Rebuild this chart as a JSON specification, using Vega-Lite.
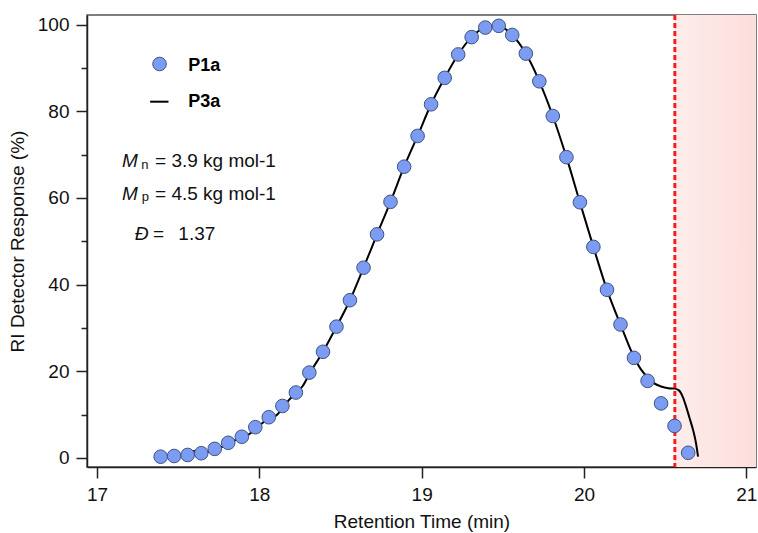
{
  "$schema": "https://vega.github.io/schema/vega-lite/v6.json",
  "width": 669,
  "height": 452,
  "autosize": {"type": "none"},
  "padding": {"left": 87, "top": 15, "right": 2, "bottom": 66},
  "background": "white",
  "config": {
    "font": "Liberation Sans",
    "view": {"stroke": "#555555", "strokeWidth": 1.5},
    "axis": {
      "grid": false,
      "domainColor": "#222222",
      "domainWidth": 1.5,
      "tickColor": "#222222",
      "tickWidth": 1.5,
      "labelFont": "Liberation Sans",
      "labelFontSize": 19,
      "labelColor": "#111111",
      "titleFont": "Liberation Sans",
      "titleFontSize": 19,
      "titleFontWeight": "normal",
      "titleColor": "#111111"
    }
  },
  "datasets": {
    "p1a": [
      {"x": 17.392, "y": 0.3}, {"x": 17.475, "y": 0.46}, {"x": 17.558, "y": 0.7}, {"x": 17.642, "y": 1.1},
      {"x": 17.725, "y": 2.1}, {"x": 17.808, "y": 3.5}, {"x": 17.892, "y": 4.9}, {"x": 17.975, "y": 7.1},
      {"x": 18.058, "y": 9.4}, {"x": 18.142, "y": 12.0}, {"x": 18.225, "y": 15.1}, {"x": 18.308, "y": 19.7},
      {"x": 18.392, "y": 24.5}, {"x": 18.475, "y": 30.3}, {"x": 18.558, "y": 36.4}, {"x": 18.642, "y": 43.9},
      {"x": 18.725, "y": 51.6}, {"x": 18.808, "y": 59.1}, {"x": 18.892, "y": 67.2}, {"x": 18.975, "y": 74.3},
      {"x": 19.058, "y": 81.6}, {"x": 19.142, "y": 87.7}, {"x": 19.225, "y": 93.1}, {"x": 19.308, "y": 97.1},
      {"x": 19.392, "y": 99.3}, {"x": 19.475, "y": 99.7}, {"x": 19.558, "y": 97.6}, {"x": 19.642, "y": 93.3},
      {"x": 19.725, "y": 86.9}, {"x": 19.808, "y": 78.9}, {"x": 19.892, "y": 69.4}, {"x": 19.975, "y": 59.0},
      {"x": 20.058, "y": 48.7}, {"x": 20.142, "y": 38.8}, {"x": 20.225, "y": 30.8}, {"x": 20.308, "y": 23.1},
      {"x": 20.392, "y": 17.8}, {"x": 20.475, "y": 12.6}, {"x": 20.558, "y": 7.4}, {"x": 20.642, "y": 1.2}
    ],
    "p3a": [
      {"x": 17.36, "y": 0.0}, {"x": 17.392, "y": 0.1}, {"x": 17.433, "y": 0.3}, {"x": 17.475, "y": 0.5},
      {"x": 17.517, "y": 0.7}, {"x": 17.558, "y": 1.0}, {"x": 17.6, "y": 1.6}, {"x": 17.642, "y": 1.3},
      {"x": 17.683, "y": 1.4}, {"x": 17.725, "y": 1.8}, {"x": 17.767, "y": 2.5}, {"x": 17.808, "y": 3.3},
      {"x": 17.85, "y": 4.1}, {"x": 17.892, "y": 4.7}, {"x": 17.933, "y": 5.4}, {"x": 17.975, "y": 6.6},
      {"x": 18.017, "y": 8.0}, {"x": 18.058, "y": 9.2}, {"x": 18.1, "y": 9.7}, {"x": 18.142, "y": 11.4},
      {"x": 18.183, "y": 13.4}, {"x": 18.225, "y": 15.0}, {"x": 18.267, "y": 16.6}, {"x": 18.308, "y": 19.4},
      {"x": 18.392, "y": 24.5}, {"x": 18.475, "y": 30.3}, {"x": 18.558, "y": 36.4}, {"x": 18.642, "y": 43.9},
      {"x": 18.725, "y": 51.6}, {"x": 18.808, "y": 59.1}, {"x": 18.892, "y": 67.2}, {"x": 18.975, "y": 74.3},
      {"x": 19.058, "y": 81.6}, {"x": 19.142, "y": 87.7}, {"x": 19.225, "y": 93.1}, {"x": 19.308, "y": 97.1},
      {"x": 19.392, "y": 99.3}, {"x": 19.475, "y": 99.6}, {"x": 19.558, "y": 97.6}, {"x": 19.642, "y": 93.3},
      {"x": 19.725, "y": 86.9}, {"x": 19.808, "y": 78.9}, {"x": 19.892, "y": 69.4}, {"x": 19.975, "y": 59.0},
      {"x": 20.058, "y": 48.7}, {"x": 20.142, "y": 38.8}, {"x": 20.225, "y": 30.8}, {"x": 20.308, "y": 23.3},
      {"x": 20.35, "y": 20.5}, {"x": 20.392, "y": 18.6}, {"x": 20.433, "y": 17.2}, {"x": 20.475, "y": 16.5},
      {"x": 20.52, "y": 16.1}, {"x": 20.56, "y": 16.0}, {"x": 20.585, "y": 15.6}, {"x": 20.61, "y": 14.0},
      {"x": 20.63, "y": 11.8}, {"x": 20.65, "y": 9.3}, {"x": 20.672, "y": 6.5}, {"x": 20.69, "y": 3.5},
      {"x": 20.703, "y": 0.3}
    ],
    "cutoff": [{"x": 20.56, "x2": 21.2}],
    "legendPoint": [{"x": 17.385, "y": 90.9}],
    "legendLine": [{"x": 17.327, "x2": 17.44, "y": 82.2}],
    "legendText": [{"x": 17.562, "y": 89.3, "label": "P1a"}, {"x": 17.562, "y": 80.9, "label": "P3a"}],
    "italicText": [{"x": 17.154, "y": 67.2, "label": "M"}, {"x": 17.154, "y": 59.5, "label": "M"}, {"x": 17.232, "y": 50.4, "label": "Đ"}],
    "subText": [{"x": 17.272, "y": 66.6, "label": "n"}, {"x": 17.276, "y": 59.3, "label": "p"}],
    "plainText": [{"x": 17.357, "y": 67.2, "label": "= 3.9 kg mol-1"}, {"x": 17.357, "y": 59.5, "label": "= 4.5 kg mol-1"}, {"x": 17.345, "y": 50.4, "label": "="}, {"x": 17.501, "y": 50.4, "label": "1.37"}]
  },
  "layer": [
    {
      "data": {"name": "cutoff"},
      "mark": {"type": "rect", "clip": true, "color": {"gradient": "linear", "x1": 0, "x2": 1, "y1": 0, "y2": 0, "stops": [{"offset": 0, "color": "#fdeceb"}, {"offset": 1, "color": "#fcdad8"}]}},
      "encoding": {
        "x": {"field": "x", "type": "quantitative", "scale": {"domain": [16.938, 21.06], "nice": false, "zero": false}},
        "x2": {"field": "x2"}
      }
    },
    {
      "data": {"name": "cutoff"},
      "mark": {"type": "rule", "color": "#ff1a1a", "strokeWidth": 3, "strokeDash": [5, 3]},
      "encoding": {
        "x": {"field": "x", "type": "quantitative", "scale": {"domain": [16.938, 21.06], "nice": false, "zero": false}}
      }
    },
    {
      "data": {"name": "p3a"},
      "mark": {"type": "line", "color": "#000000", "strokeWidth": 2, "interpolate": "monotone"},
      "encoding": {
        "x": {"field": "x", "type": "quantitative", "scale": {"domain": [16.938, 21.06], "nice": false, "zero": false}},
        "y": {"field": "y", "type": "quantitative", "scale": {"domain": [-2.08, 102.2], "nice": false, "zero": false}}
      }
    },
    {
      "data": {"name": "p1a"},
      "mark": {"type": "point", "shape": "circle", "filled": true, "size": 185, "fill": "#7b9cf2", "stroke": "#3f5282", "strokeWidth": 1, "opacity": 1, "fillOpacity": 1},
      "encoding": {
        "x": {
          "field": "x", "type": "quantitative",
          "scale": {"domain": [16.938, 21.06], "nice": false, "zero": false},
          "axis": {"title": "Retention Time (min)", "values": [17, 18, 19, 20, 21], "tickSize": 11, "labelPadding": 7, "titlePadding": 8, "format": "d"}
        },
        "y": {
          "field": "y", "type": "quantitative",
          "scale": {"domain": [-2.08, 102.2], "nice": false, "zero": false},
          "axis": {
            "title": "RI Detector Response (%)",
            "values": [0, 10, 20, 30, 40, 50, 60, 70, 80, 90, 100],
            "labelExpr": "datum.value % 20 === 0 ? datum.label : ''",
            "tickSize": {"condition": {"test": "datum.value % 20 === 0", "value": 11}, "value": 6},
            "labelPadding": 7,
            "titlePadding": 10
          }
        }
      }
    },
    {
      "data": {"name": "legendPoint"},
      "mark": {"type": "point", "shape": "circle", "filled": true, "size": 185, "fill": "#7b9cf2", "stroke": "#3f5282", "strokeWidth": 1, "opacity": 1},
      "encoding": {
        "x": {"field": "x", "type": "quantitative", "scale": {"domain": [16.938, 21.06], "nice": false, "zero": false}},
        "y": {"field": "y", "type": "quantitative", "scale": {"domain": [-2.08, 102.2], "nice": false, "zero": false}}
      }
    },
    {
      "data": {"name": "legendLine"},
      "mark": {"type": "rule", "color": "#000000", "strokeWidth": 2},
      "encoding": {
        "x": {"field": "x", "type": "quantitative", "scale": {"domain": [16.938, 21.06], "nice": false, "zero": false}},
        "x2": {"field": "x2"},
        "y": {"field": "y", "type": "quantitative", "scale": {"domain": [-2.08, 102.2], "nice": false, "zero": false}}
      }
    },
    {
      "data": {"name": "legendText"},
      "mark": {"type": "text", "align": "left", "baseline": "alphabetic", "fontSize": 18, "fontWeight": "bold", "color": "#000000", "font": "Liberation Sans"},
      "encoding": {
        "x": {"field": "x", "type": "quantitative", "scale": {"domain": [16.938, 21.06], "nice": false, "zero": false}},
        "y": {"field": "y", "type": "quantitative", "scale": {"domain": [-2.08, 102.2], "nice": false, "zero": false}},
        "text": {"field": "label"}
      }
    },
    {
      "data": {"name": "italicText"},
      "mark": {"type": "text", "align": "left", "baseline": "alphabetic", "fontSize": 19, "fontStyle": "italic", "color": "#111111", "font": "Liberation Sans"},
      "encoding": {
        "x": {"field": "x", "type": "quantitative", "scale": {"domain": [16.938, 21.06], "nice": false, "zero": false}},
        "y": {"field": "y", "type": "quantitative", "scale": {"domain": [-2.08, 102.2], "nice": false, "zero": false}},
        "text": {"field": "label"}
      }
    },
    {
      "data": {"name": "subText"},
      "mark": {"type": "text", "align": "left", "baseline": "alphabetic", "fontSize": 13, "color": "#111111", "font": "Liberation Sans"},
      "encoding": {
        "x": {"field": "x", "type": "quantitative", "scale": {"domain": [16.938, 21.06], "nice": false, "zero": false}},
        "y": {"field": "y", "type": "quantitative", "scale": {"domain": [-2.08, 102.2], "nice": false, "zero": false}},
        "text": {"field": "label"}
      }
    },
    {
      "data": {"name": "plainText"},
      "mark": {"type": "text", "align": "left", "baseline": "alphabetic", "fontSize": 19, "color": "#111111", "font": "Liberation Sans"},
      "encoding": {
        "x": {"field": "x", "type": "quantitative", "scale": {"domain": [16.938, 21.06], "nice": false, "zero": false}},
        "y": {"field": "y", "type": "quantitative", "scale": {"domain": [-2.08, 102.2], "nice": false, "zero": false}},
        "text": {"field": "label"}
      }
    }
  ]
}
